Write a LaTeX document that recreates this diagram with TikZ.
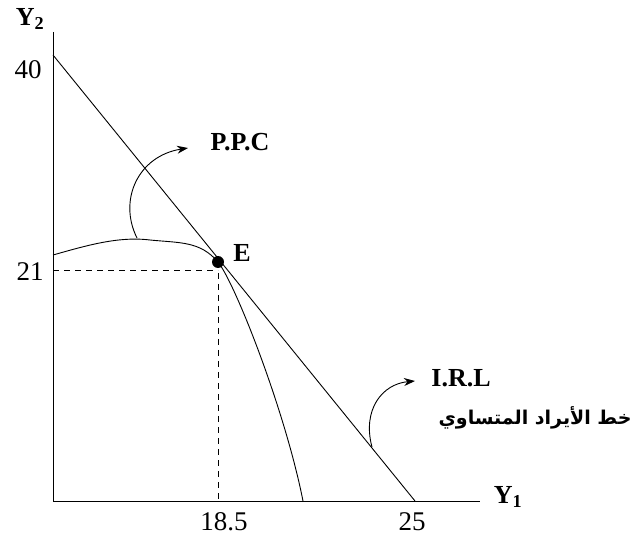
\documentclass[tikz,border=0pt]{standalone}
\usepackage{fontspec}
\setmainfont{Liberation Serif}
\newfontfamily\arabicfont[Script=Arabic]{DejaVu Sans}
\TeXXeTstate=1
\usetikzlibrary{arrows.meta}
\begin{document}
\begin{tikzpicture}[x=1pt,y=-1pt,
  thinline/.style={line width=0.9pt},
  dashline/.style={line width=0.9pt,dash pattern=on 6pt off 5pt},
  curvearrow/.style={line width=0.9pt,-{Stealth[length=11pt,width=8pt]}},
  numlbl/.style={font=\fontsize{27}{30}\selectfont,inner sep=0pt},
  boldlbl/.style={font=\bfseries\fontsize{26}{30}\selectfont,inner sep=0pt}]
\useasboundingbox (0,0) rectangle (632,537);
% key points
\coordinate (O) at (53,501);
\coordinate (Ytop) at (53,32);
\coordinate (Xend) at (480,501);
\coordinate (A40) at (53,55);
\coordinate (B25) at (415,501);
\coordinate (E) at (218,262);
\coordinate (D21) at (53,270);
\coordinate (D185) at (218,501);
\coordinate (Pstart) at (53,255);
\coordinate (Pmid) at (150,240);
\coordinate (Pend) at (303,501);
\coordinate (ArrPstart) at (137,238);
\coordinate (ArrPend) at (188,148);
\coordinate (ArrIstart) at (372,447);
\coordinate (ArrIend) at (415,381);
% axes
\draw[thinline] (Ytop) -- (O) -- (Xend);
% iso-revenue line
\draw[thinline] (A40) -- (B25);
% dashed guides
\draw[dashline] (D21) -- (E |- D21);
\draw[dashline] (E) -- (D185);
% PPC
\draw[thinline] (Pstart) .. controls (85,246) and (118,236) .. (Pmid)
  .. controls (180,243) and (200,241) .. (E)
  .. controls (235,283) and (285,410) .. (Pend);
% point E
\node[circle,fill=black,inner sep=0pt,minimum size=12pt] (Edot) at (E) {};
% curved arrows
\draw[curvearrow] (ArrPstart) .. controls (118,200) and (138,156) .. (ArrPend);
\draw[curvearrow] (ArrIstart) .. controls (362,410) and (382,384) .. (ArrIend);
% labels
\node[boldlbl] (y2) at (30,19) {Y$_{\mathbf 2}$};
\node[boldlbl] (y1) at (508,497) {Y$_{\mathbf 1}$};
\node[numlbl] (l40) at (28,70) {40};
\node[numlbl] (l21) at (30,272) {21};
\node[numlbl] (l185) at (224,522) {18.5};
\node[numlbl] (l25) at (412,522) {25};
\node[boldlbl] (le) at (242,253) {E};
\node[boldlbl] (ppc) at (240,142) {P.P.C};
\node[boldlbl] (irl) at (461,378) {I.R.L};
\node[inner sep=0pt] (ar) at (535,418) {\arabicfont\bfseries\fontsize{19}{22}\selectfont\beginR خط الأيراد المتساوي\endR};
\end{tikzpicture}
\end{document}
